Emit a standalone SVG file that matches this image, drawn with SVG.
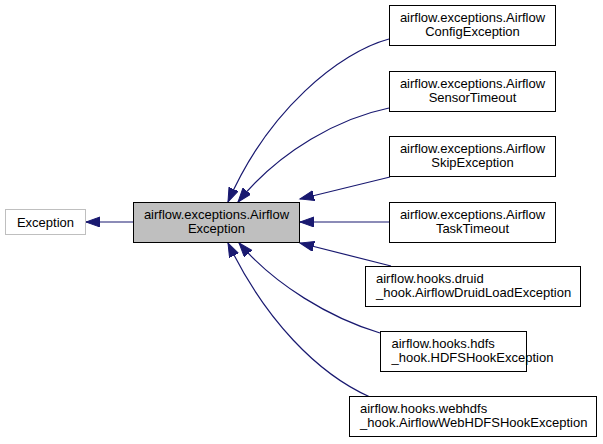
<svg xmlns="http://www.w3.org/2000/svg" width="603" height="444" viewBox="0 0 603 444">
<style>
  .box{fill:#ffffff;stroke:#000000;stroke-width:1}
  .main{fill:#bfbfbf;stroke:#000000;stroke-width:1}
  .ext{fill:#ffffff;stroke:#bfbfbf;stroke-width:1}
  text{font-family:"Liberation Sans",Arial,sans-serif;font-size:13px;fill:#000000}
  .c{text-anchor:middle}
  .edge{fill:none;stroke:#191970;stroke-width:1.2}
</style>
<defs>
  <marker id="ah" markerUnits="userSpaceOnUse" markerWidth="16" markerHeight="12" refX="14" refY="5" orient="auto">
    <polygon points="0,0 14,5 0,10" fill="#191970" stroke="#191970" stroke-width="1"/>
  </marker>
</defs>
<rect width="603" height="444" fill="#ffffff"/>
<g id="edges">
  <path class="edge" marker-end="url(#ah)" d="M133,222 L86,222"/>
  <path class="edge" marker-end="url(#ah)" d="M389,39 C340,52 268,110 228,202"/>
  <path class="edge" marker-end="url(#ah)" d="M389,108 C340,118 280,150 238,202"/>
  <path class="edge" marker-end="url(#ah)" d="M390,177 L300,199"/>
  <path class="edge" marker-end="url(#ah)" d="M389,222 L300,222"/>
  <path class="edge" marker-end="url(#ah)" d="M391,266 L300,243"/>
  <path class="edge" marker-end="url(#ah)" d="M380,333 C330,318 275,285 239,243"/>
  <path class="edge" marker-end="url(#ah)" d="M370,397 C318,374 265,320 228,243"/>
</g>
<g id="Exception">
  <rect class="ext" x="5.5" y="209.5" width="80" height="25"/>
  <text class="c" x="45.5" y="226.5">Exception</text>
</g>
<g id="AirflowException">
  <rect class="main" x="133.5" y="202.5" width="166" height="40"/>
  <text class="c" x="216.5" y="219">airflow.exceptions.Airflow</text>
  <text class="c" x="216.5" y="233">Exception</text>
</g>
<g id="AirflowConfigException">
  <rect class="box" x="389.5" y="5.5" width="166" height="40"/>
  <text class="c" x="472.5" y="22">airflow.exceptions.Airflow</text>
  <text class="c" x="472.5" y="36">ConfigException</text>
</g>
<g id="AirflowSensorTimeout">
  <rect class="box" x="389.5" y="71.5" width="166" height="40"/>
  <text class="c" x="472.5" y="88">airflow.exceptions.Airflow</text>
  <text class="c" x="472.5" y="102">SensorTimeout</text>
</g>
<g id="AirflowSkipException">
  <rect class="box" x="389.5" y="136.5" width="166" height="40"/>
  <text class="c" x="472.5" y="153">airflow.exceptions.Airflow</text>
  <text class="c" x="472.5" y="167">SkipException</text>
</g>
<g id="AirflowTaskTimeout">
  <rect class="box" x="389.5" y="202.5" width="166" height="40"/>
  <text class="c" x="472.5" y="219">airflow.exceptions.Airflow</text>
  <text class="c" x="472.5" y="233">TaskTimeout</text>
</g>
<g id="AirflowDruidLoadException">
  <rect class="box" x="365.5" y="266.5" width="215" height="40"/>
  <text x="376" y="283">airflow.hooks.druid</text>
  <text x="376" y="297">_hook.AirflowDruidLoadException</text>
</g>
<g id="HDFSHookException">
  <rect class="box" x="380.5" y="331.5" width="146" height="40"/>
  <text x="391.5" y="348">airflow.hooks.hdfs</text>
  <text x="391.5" y="362">_hook.HDFSHookException</text>
</g>
<g id="AirflowWebHDFSHookException">
  <rect class="box" x="349.5" y="396.5" width="247" height="40"/>
  <text x="360" y="413">airflow.hooks.webhdfs</text>
  <text x="360" y="427">_hook.AirflowWebHDFSHookException</text>
</g>
</svg>
